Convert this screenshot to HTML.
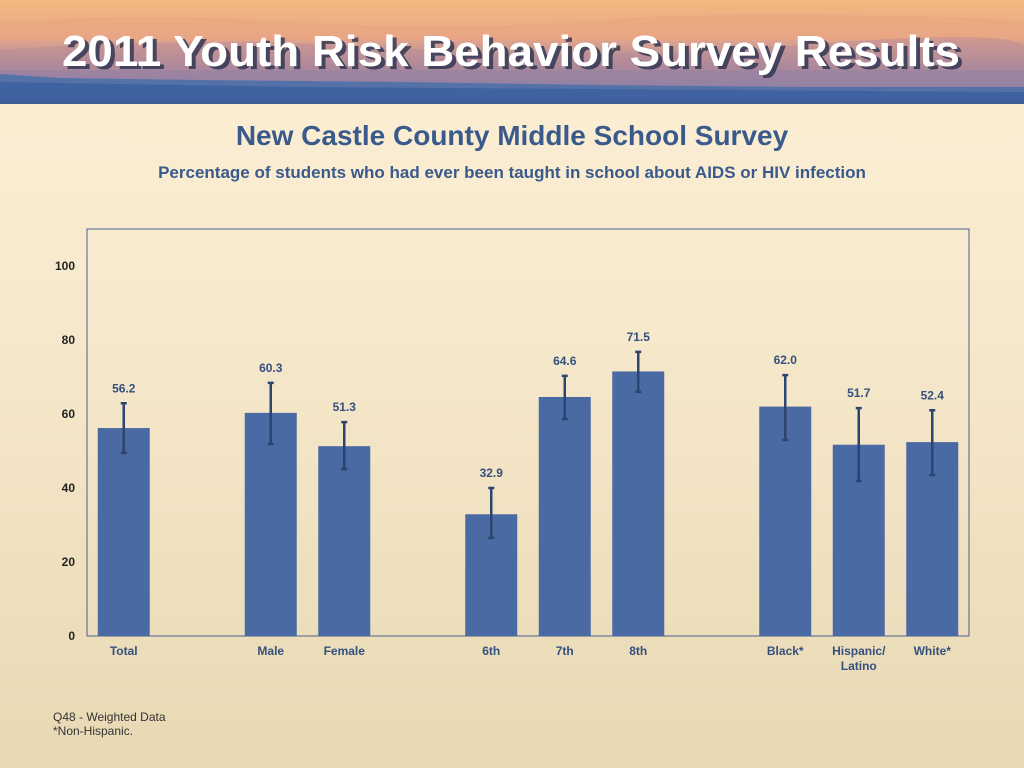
<!DOCTYPE html>
<html><head><meta charset="utf-8"><style>
html,body{margin:0;padding:0}
body{width:1024px;height:768px;overflow:hidden;position:relative;font-family:"Liberation Sans",sans-serif;background:linear-gradient(#fcf0d6 0px,#f7e9cd 300px,#e8d9b4 768px)}
.t{position:absolute;left:0;width:1024px;text-align:center;color:#3a5a8c;font-weight:bold;white-space:nowrap}
.foot{position:absolute;left:53px;top:710px;font-size:12px;color:#333;line-height:14px}
</style></head><body>
<svg width="1024" height="104" style="position:absolute;left:0;top:0">
<defs><linearGradient id="sky" x1="0" y1="0" x2="0" y2="1">
<stop offset="0" stop-color="#f2b97e"/><stop offset="0.35" stop-color="#e9a98a"/><stop offset="0.65" stop-color="#9f84a0"/><stop offset="1" stop-color="#8a7fa6"/></linearGradient></defs>
<rect width="1024" height="104" fill="url(#sky)"/>
<path d="M0 22 Q150 12 300 22 T600 20 T1024 20 L1024 40 L0 40Z" fill="#eaa47e" opacity="0.5"/>
<path d="M0 50 Q200 35 400 48 T800 45 T1024 45 L1024 70 L0 70Z" fill="#b98c95" opacity="0.5"/>
<path d="M0 74 L60 78 L200 80 L400 82 L600 85 L800 87 L1024 87 L1024 104 L0 104Z" fill="#5572a8"/>
<path d="M0 82 L300 87 L1024 92 L1024 104 L0 104Z" fill="#3f62a0"/>
<rect y="99" width="1024" height="5" fill="#3d5e96"/>
<text x="64" y="66" textLength="898" lengthAdjust="spacingAndGlyphs" font-family="Liberation Sans" font-weight="bold" font-size="44" fill="#2a3350" opacity="0.8" transform="translate(2,3)">2011 Youth Risk Behavior Survey Results</text>
<text x="62" y="66" textLength="898" lengthAdjust="spacingAndGlyphs" font-family="Liberation Sans" font-weight="bold" font-size="44" fill="#fff">2011 Youth Risk Behavior Survey Results</text>
</svg>
<div class="t" style="top:120px;font-size:28px">New Castle County Middle School Survey</div>
<div class="t" style="top:163px;font-size:17px">Percentage of students who had ever been taught in school about AIDS or HIV infection</div>
<svg id="chart" width="1024" height="768" style="position:absolute;left:0;top:0"></svg>
<div class="foot">Q48 - Weighted Data<br>*Non-Hispanic.</div>
<script>
const categories=["Total","Male","Female","6th","7th","8th","Black*","Hispanic/\nLatino","White*"];
const slots=[0,2,3,5,6,7,9,10,11];
const values=[56.2,60.3,51.3,32.9,64.6,71.5,62.0,51.7,52.4];
const lower=[49.5,51.9,45.1,26.5,58.6,66.0,53.0,41.9,43.5];
const upper=[62.9,68.4,57.8,40.0,70.3,76.8,70.5,61.6,61.0];
const ticks=[0,20,40,60,80,100];
const NS="http://www.w3.org/2000/svg",svg=document.getElementById('chart');
const L=87,R=969,T=229,B=636,ymax=110;
const y=v=>B-(B-T)*v/ymax;
const sw=(R-L)/12;
const x=s=>L+sw*(s+0.5);
function mk(t,a,txt){const e=document.createElementNS(NS,t);for(const k in a)e.setAttribute(k,a[k]);if(txt!=null)e.textContent=txt;svg.appendChild(e);return e;}
let f=mk('rect',{x:L,y:T,width:R-L,height:B-T,fill:'none',stroke:'#4a5f8f','stroke-width':1});


ticks.forEach(t=>{const e=mk('text',{x:75,y:y(t)+4,'text-anchor':'end','font-size':12,'font-weight':'bold',fill:'#222'},t);

});
values.forEach((v,i)=>{const cx=x(slots[i]);
const b=mk('rect',{x:cx-26,y:y(v),width:52,height:B-y(v),fill:'#4a6aa3'});


const g=mk('path',{d:`M${cx} ${y(upper[i])}V${y(lower[i])}M${cx-3} ${y(upper[i])}h6M${cx-3} ${y(lower[i])}h6`,stroke:'#2c4470','stroke-width':2.5,fill:'none'});


const l=mk('text',{x:cx,y:y(upper[i])-11,'text-anchor':'middle','font-size':12,'font-weight':'bold',fill:'#34507e'},v.toFixed(1));


categories[i].split('\n').forEach((s,j)=>{const c=mk('text',{x:cx,y:655+j*15,'text-anchor':'middle','font-size':12,'font-weight':'bold',fill:'#34507e'},s);

});
});
</script>
</body></html>
